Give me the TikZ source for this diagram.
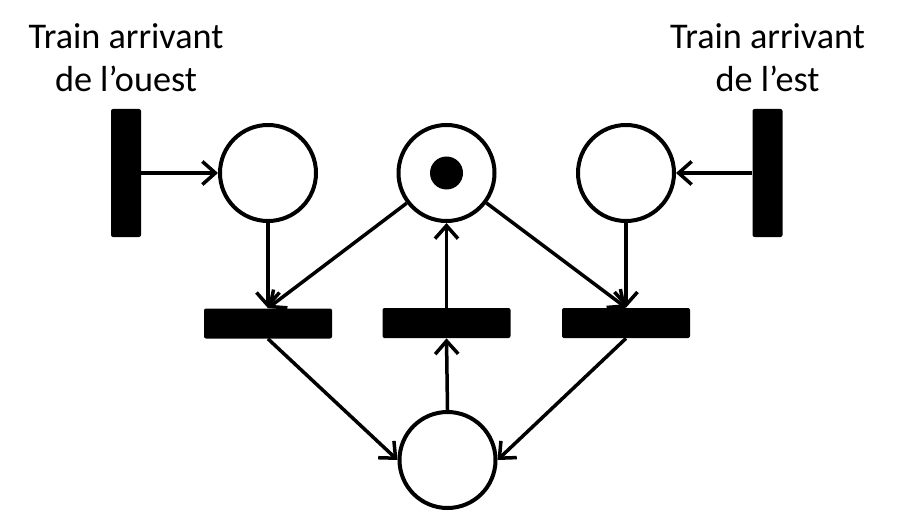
\documentclass[tikz,border=0pt]{standalone}
\usepackage{fontspec}
\setmainfont{Carlito}
\usepackage{tikz}
\usetikzlibrary{arrows.meta}

\begin{document}
\begin{tikzpicture}
            \tikzstyle{every node}=[font=\fontsize{20.6}{24.7}\selectfont]
            \tikzstyle{place}=[draw, circle, line width=0.08cm, minimum size=1.92cm, inner sep=0pt]
            \tikzstyle{vbar}=[fill=black, rounded corners=0.04cm, minimum width=0.6cm, minimum height=2.56cm, inner sep=0pt]
            \tikzstyle{hbar}=[fill=black, rounded corners=0.04cm, minimum width=2.56cm, minimum height=0.6cm, inner sep=0pt]
            \tikzstyle{arc}=[line width=0.07cm, -{Straight Barb[length=0.26cm,width=0.46cm]}]
            \useasboundingbox (0,0) rectangle (18.04,10.24);
            % places
            \node [place] (ouest) at (5.36,6.78) {};
            \node [place] (voie) at (8.93,6.78) {};
            \node [place] (est) at (12.52,6.78) {};
            \node [place] (libre) at (8.95,1.04) {};
            \fill (voie) circle (0.33cm);
            % transitions
            \node [vbar] (arrO) at (2.52,6.78) {};
            \node [vbar] (arrE) at (15.35,6.78) {};
            \node [hbar] (entO) at (5.36,3.77) {};
            \node [hbar] (sort) at (8.93,3.78) {};
            \node [hbar] (entE) at (12.52,3.78) {};
            % labels
            \node [anchor=base, align=center] (txtO) at (2.52,8.4) {Train arrivant\\de l’ouest};
            \node [anchor=base, align=center] (txtE) at (15.35,8.4) {Train arrivant\\de l’est};
            % arcs
            \draw [arc] (arrO.east) -- (ouest.west);
            \draw [arc] (arrE.west) -- (est.east);
            \draw [arc] (ouest.south) -- (entO.north);
            \draw [arc] (est.south) -- (entE.north);
            \draw [arc] (voie) -- (entO.north);
            \draw [arc] (voie) -- (entE.north);
            \draw [arc] (sort.north) -- (voie.south);
            \draw [arc] (libre.north) -- (sort.south);
            \draw [arc] (entO.south) -- (libre.west);
            \draw [arc] (entE.south) -- (libre.east);
        \end{tikzpicture}
\end{document}
